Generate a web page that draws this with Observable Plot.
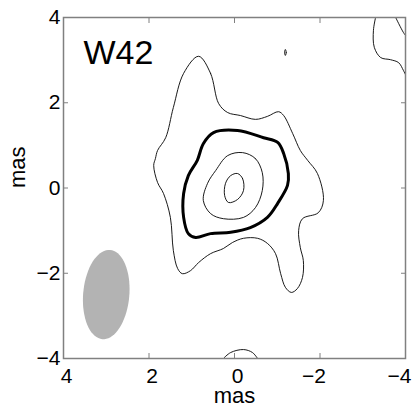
<!DOCTYPE html>
<html>
<head>
<meta charset="utf-8">
<script src="https://cdn.jsdelivr.net/npm/d3@7"></script>
<script src="https://cdn.jsdelivr.net/npm/@observablehq/plot@0.6"></script>
<style>
  html, body { margin: 0; padding: 0; background: #fff; }
</style>
</head>
<body>
<div id="chart"></div>
<script>
// ---- data (mas offsets) ----
const title = "W42";
const axisLabel = "mas";
const tickValues = [-4, -2, 0, 2, 4];

const contourOuter = [
  [0.84, 3.09], [0.56, 2.69], [0.37, 1.98], [0.16, 1.77], [-0.14, 1.70], [-0.49, 1.61],
  [-0.77, 1.68], [-1.03, 1.79], [-1.15, 1.70], [-1.36, 1.28], [-1.54, 0.88], [-1.71, 0.65],
  [-1.94, 0.34], [-2.08, -0.29], [-1.96, -0.58], [-1.59, -0.72], [-1.50, -1.00], [-1.54, -1.40],
  [-1.61, -1.70], [-1.59, -2.10], [-1.47, -2.36], [-1.33, -2.45], [-1.19, -2.33], [-1.08, -2.01],
  [-0.96, -1.54], [-0.77, -1.30], [-0.54, -1.18], [-0.21, -1.18], [0.05, -1.28], [0.26, -1.42],
  [0.56, -1.54], [0.84, -1.75], [1.03, -1.94], [1.22, -2.01], [1.33, -1.89], [1.43, -1.47],
  [1.50, -0.69], [1.66, -0.13], [1.80, 0.13], [1.89, 0.53], [1.85, 0.69], [1.80, 0.88],
  [1.61, 1.18], [1.43, 1.89], [1.19, 2.69]
];
const contourThick = [
  [0.49, 1.30], [-0.07, 1.35], [-0.68, 1.18], [-1.01, 1.07], [-1.15, 0.81], [-1.26, 0.34],
  [-1.24, 0.06], [-1.01, -0.36], [-0.77, -0.69], [-0.37, -0.93], [0.09, -1.04], [0.56, -1.07],
  [0.91, -1.16], [1.08, -1.07], [1.19, -0.69], [1.19, -0.13], [1.08, 0.29], [0.87, 0.65],
  [0.73, 1.04]
];
const contourInner = [
  [-0.19, 0.83], [-0.49, 0.69], [-0.65, 0.36], [-0.65, -0.06], [-0.49, -0.46], [-0.21, -0.69],
  [0.26, -0.72], [0.56, -0.60], [0.73, -0.29], [0.63, 0.11], [0.44, 0.41], [0.16, 0.76]
];
const contourCore = [
  [-0.07, 0.34], [-0.19, 0.22], [-0.21, -0.06], [-0.07, -0.27], [0.14, -0.34], [0.23, -0.18],
  [0.21, 0.11], [0.09, 0.29]
];
const contourBlip = [[-1.19, 3.25], [-1.21, 3.18], [-1.19, 3.11], [-1.17, 3.18]];
const contourCornerA = [
  [-3.30, 4.00], [-3.25, 3.70], [-3.27, 3.30], [-3.42, 3.06], [-3.65, 3.01], [-3.84, 2.94],
  [-3.95, 2.76], [-4.00, 2.66]
];
const contourCornerB = [[-3.77, 4.00], [-3.95, 3.65], [-4.00, 3.58]];
const contourBottom = [[0.26, -4.00], [0.09, -3.86], [-0.21, -3.79], [-0.42, -3.86], [-0.54, -4.00]];

// restoring beam: centre, semi-minor / semi-major axes (mas), tilt (deg)
const beamCenter = [3.0, -2.5];
const beamAxes = [0.54, 1.05];
const beamTilt = 5;

// ---- beam outline ----
const t = beamTilt * Math.PI / 180;
const beam = d3.range(0, 73).map(i => {
  const u = i / 72 * 2 * Math.PI;
  const px = beamAxes[0] * Math.cos(u), py = beamAxes[1] * Math.sin(u);
  return [beamCenter[0] + px * Math.cos(t) - py * Math.sin(t),
          beamCenter[1] + px * Math.sin(t) + py * Math.cos(t)];
});

const X = d => d[0], Y = d => d[1];
const thin = {x: X, y: Y, stroke: "black", strokeWidth: 0.9};
const xLabelStyle = {anchor: "bottom", tickSize: 0, tickPadding: 10, fontSize: 21, fill: "black", label: null, textAnchor: "end"};

const chart = Plot.plot({
  width: 415,
  height: 406,
  marginLeft: 63,
  marginRight: 10,
  marginTop: 17,
  marginBottom: 48,
  style: {fontFamily: "'Liberation Sans', Arial, Helvetica, sans-serif", background: "white", overflow: "visible"},
  x: {domain: [4, -4]},
  y: {domain: [-4, 4]},
  marks: [
    Plot.line(beam, {x: X, y: Y, fill: "#b3b3b3", stroke: "none", curve: "linear-closed"}),
    Plot.line(contourOuter, {...thin, curve: "catmull-rom-closed"}),
    Plot.line(contourThick, {x: X, y: Y, stroke: "black", strokeWidth: 3, curve: "catmull-rom-closed"}),
    Plot.line(contourInner, {...thin, curve: "catmull-rom-closed"}),
    Plot.line(contourCore, {...thin, curve: "catmull-rom-closed"}),
    Plot.line(contourBlip, {...thin, curve: "catmull-rom-closed"}),
    Plot.line(contourCornerA, {...thin, curve: "catmull-rom"}),
    Plot.line(contourCornerB, {...thin, curve: "catmull-rom"}),
    Plot.line(contourBottom, {...thin, curve: "catmull-rom"}),
    Plot.frame({stroke: "#808080", strokeWidth: 1.5}),
    // inward tick marks on all four sides
    Plot.axisX(tickValues, {anchor: "bottom", tickSize: -5, tickFormat: () => "", stroke: "#808080", label: null}),
    Plot.axisX(tickValues, {anchor: "top", tickSize: -5, tickFormat: () => "", stroke: "#808080", label: null}),
    Plot.axisY(tickValues, {anchor: "left", tickSize: -5, tickFormat: () => "", stroke: "#808080", label: null}),
    Plot.axisY(tickValues, {anchor: "right", tickSize: -5, tickFormat: () => "", stroke: "#808080", label: null}),
    // tick labels (digits sit on the tick, minus signs hang to the left)
    Plot.axisX(tickValues.filter(v => v >= 0), {...xLabelStyle, dx: 9}),
    Plot.axisX(tickValues.filter(v => v < 0), {...xLabelStyle, dx: 6}),
    Plot.axisY(tickValues, {anchor: "left", tickSize: 0, tickPadding: 3, fontSize: 21, fill: "black", label: null}),
    // axis titles
    Plot.text([axisLabel], {text: d => d, frameAnchor: "bottom", dy: 44, lineAnchor: "bottom", fontSize: 22, fill: "black"}),
    Plot.text([axisLabel], {text: d => d, frameAnchor: "left", dx: -39, rotate: -90, lineAnchor: "bottom", fontSize: 22, fill: "black"}),
    Plot.text([title], {text: d => d, frameAnchor: "top-left", dx: 20, dy: 46, lineAnchor: "bottom", textAnchor: "start", fontSize: 34, fill: "black"})
  ]
});
document.getElementById("chart").appendChild(chart);
</script>
</body>
</html>
